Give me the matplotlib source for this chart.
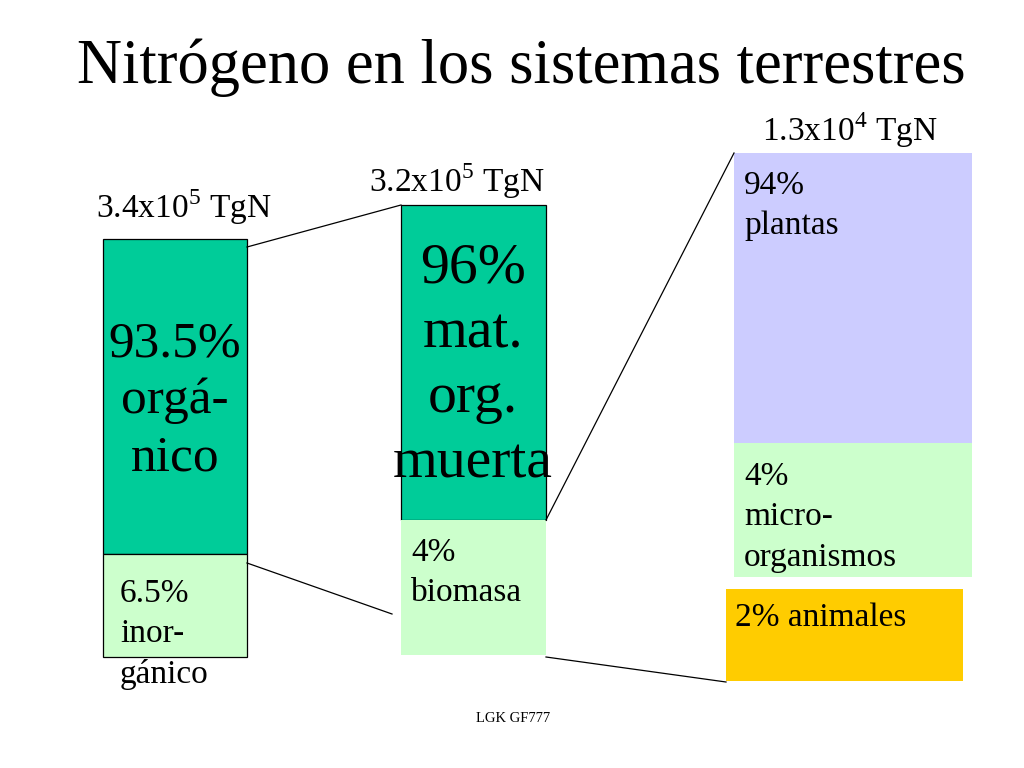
"""
Nitrógeno en los sistemas terrestres - slide diagram of N pools (TgN).
"""
import matplotlib
matplotlib.use('Agg')
import matplotlib.pyplot as plt
from matplotlib.patches import Rectangle

plt.rcParams['font.family'] = ['Liberation Serif', 'DejaVu Serif']
plt.rcParams['mathtext.fontset'] = 'custom'
plt.rcParams['mathtext.rm'] = 'Liberation Serif'

# ── Data ──────────────────────────────────────────────────────────────────────
TITLE = 'Nitrógeno en los sistemas terrestres'
FOOTER = 'LGK GF777'

pool_mantissa = ['3.4', '3.2', '1.3']
pool_exponent = [5, 5, 4]

soil_pct = ['93.5%', '6.5%']
soil_names = ['orgá-\nnico', 'inor-\ngánico']

organic_pct = ['96%', '4%']
organic_names = ['mat.\norg.\nmuerta', 'biomasa']

biomass_pct = ['94%', '4%', '2%']
biomass_names = ['plantas', 'micro-\norganismos', 'animales']

# ── Layout (pixel coords, y downwards) ────────────────────────────────────────
DARK_GREEN = '#00CC99'
LIGHT_GREEN = '#CCFFCC'
LILAC = '#CCCCFF'
ORANGE = '#FFCC00'
SMALL = 24

fig = plt.figure(figsize=(10.24, 7.68), dpi=100)
ax = fig.add_axes([0, 0, 1, 1])
ax.set_xlim(0, 1024)
ax.set_ylim(768, 0)
ax.axis('off')


def box(x0, y0, x1, y1, colour, edge=True):
    ax.add_patch(Rectangle((x0, y0), x1 - x0, y1 - y0, facecolor=colour,
                           edgecolor='black' if edge else 'none', linewidth=0.9))


def link(p, q):
    ax.plot([p[0], q[0]], [p[1], q[1]], color='black', linewidth=0.9)


def pool_label(i, x, y):
    ax.text(x, y, f'{pool_mantissa[i]}x10$^{{{pool_exponent[i]}}}$ TgN',
            ha='center', va='center', fontsize=SMALL)


def note(x, y, s):
    ax.text(x, y, s, ha='left', va='center', fontsize=SMALL, linespacing=1.42)


# Column 1: soil N
box(103, 239, 247, 554, DARK_GREEN)
box(103, 554, 247, 657, LIGHT_GREEN)
pool_label(0, 184, 207)
ax.text(175, 401, f'{soil_pct[0]}\n{soil_names[0]}', ha='center', va='center',
        fontsize=37, linespacing=1.3)
note(120, 634, f'{soil_pct[1]}\n{soil_names[1]}')

# Column 2: organic N
box(401, 205, 546, 520, DARK_GREEN)
box(401, 520, 546, 655, LIGHT_GREEN, edge=False)
pool_label(1, 457, 181)
ax.text(473, 366, f'{organic_pct[0]}\n{organic_names[0]}', ha='center', va='center',
        fontsize=41.5, linespacing=1.32)
note(411, 573, f'{organic_pct[1]}\n{organic_names[1]}')

# Column 3: biomass
box(734, 153, 972, 443, LILAC, edge=False)
box(734, 443, 972, 577, LIGHT_GREEN, edge=False)
box(726, 589, 963, 681, ORANGE, edge=False)
pool_label(2, 850, 130)
note(744, 206, f'{biomass_pct[0]}\n{biomass_names[0]}')
note(744, 517, f'{biomass_pct[1]}\n{biomass_names[1]}')
note(735, 618, f'{biomass_pct[2]} {biomass_names[2]}')

# Connecting lines
link((247, 247), (401, 205))
link((247, 563), (392, 614))
link((546, 520), (734, 153))
link((546, 657), (726, 682))

ax.text(521, 68, TITLE, ha='center', va='center', fontsize=45)
ax.text(513, 718, FOOTER, ha='center', va='center', fontsize=10.5)

fig.savefig('out.png', dpi=100)
